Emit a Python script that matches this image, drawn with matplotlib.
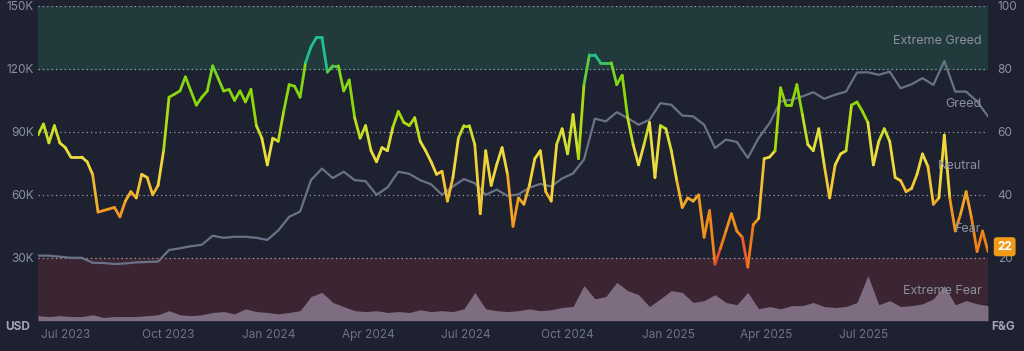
import numpy as np
import matplotlib.pyplot as plt
import matplotlib.dates as mdates
from matplotlib.collections import LineCollection
from matplotlib.colors import LinearSegmentedColormap
import pandas as pd

plt.rcParams['font.family'] = ['Inter', 'DejaVu Sans']

# Fear & Greed index, one reading every 5 days from 2023-06-28
fg_values = [
    59, 62.5, 56.5, 62, 56.5, 55, 52, 52, 52, 50.5, 46.5, 34.5, 35, 35.5, 36, 33, 38, 41, 39, 46.5,
    45.5, 40, 43, 54, 71, 72, 73, 77.5, 73, 68.5, 71, 73, 81, 77, 73, 73.5, 70, 73, 69.5, 73.5,
    62, 58, 49.5, 58,
    57, 66.5, 75, 74.5, 71, 82, 87, 90, 90, 79, 81, 81, 73, 76.5, 64.5, 58, 62, 54, 50.5, 55,
    54, 61.5, 66.5, 63, 62, 64.5, 57, 54, 50.5, 46.5, 47.5, 38, 45.5, 58, 62, 62, 56, 34, 54, 43,
    49.5, 55, 46.5,
    30, 39, 37, 43, 51.5, 54, 41, 38, 56, 61, 53, 65.5, 51.5, 75, 84.5, 84.5, 82, 82, 82, 75,
    78, 64.5, 56, 49.5, 56, 63, 45.5, 62, 61, 54, 44.5, 36, 39, 38, 40, 26.5, 35, 18, 23, 28.5,
    34, 28.5, 26.5,
    17, 30.5, 32.5, 51.5, 52, 54, 74, 68.5, 68.5, 75, 65.5, 56, 54, 61, 49.5, 39, 49.5, 53, 54, 68.5,
    69.5, 66.5, 63, 49.5, 57, 61, 57, 45.5, 44.5, 41, 42, 46.5, 53, 49, 37, 39, 59, 39, 28.5, 34,
    41, 32.5, 22, 28.5, 22,
]

# BTC price (thousand USD) and daily volume (billion USD), every 10 days from 2023-06-28
btc_usd_k = [
    31.0, 31.0, 30.5, 30.0, 30.0, 27.6, 27.5, 27.0, 27.3, 27.8, 28.0, 28.2, 33.7, 34.5, 35.5, 36.2,
    40.5, 39.5, 40.0, 40.0, 39.5, 38.5,
    43.0, 49.5, 52.0, 67.0, 72.5, 68.0, 71.0, 67.0, 66.5, 60.0, 63.5, 71.0, 70.0, 67.0, 65.0, 60.0,
    64.0, 67.5, 65.5, 60.0, 62.5, 59.5,
    60.2, 63.4, 65.2, 64.0, 67.8, 70.2, 76.8, 96.3, 95.0, 99.4, 96.6, 93.4, 95.8, 103.7, 102.9, 97.8,
    97.4, 93.4, 82.3, 86.3, 85.2,
    77.6, 87.1, 94.2, 104.5, 105.3, 106.9, 108.9, 105.8, 107.7, 109.2, 118.3, 118.4, 117.2, 118.7,
    110.8, 112.7, 115.6, 112.4, 123.8, 109.2, 109.2, 104.5, 97.4,
]
volume_b = [
    11, 9, 11, 9, 9, 13, 7, 9, 9, 9,
    11, 13, 22, 13, 11, 13, 18, 20, 15, 26,
    20, 18, 15, 18, 22, 53, 62, 40, 31, 22,
    20, 22, 18, 20, 18, 24, 20, 22, 20, 26,
    62, 26, 22, 20, 22, 26, 22, 24, 29, 31,
    77, 48, 53, 84, 66, 57, 31, 48, 66, 62,
    40, 44, 57, 40, 35, 62, 26, 31, 26, 33,
    33, 40, 31, 29, 31, 40, 99, 35, 44, 31,
    33, 37, 48, 77, 35, 44, 37, 33,
]

zone_labels = ['Extreme Greed', 'Greed', 'Neutral', 'Fear', 'Extreme Fear']
zone_label_y = [89, 69, 49, 29, 9.5]
usd_ticks_k = [30, 60, 90, 120, 150]
fg_ticks = [20, 40, 60, 80, 100]
month_ticks = ['2023-07-01', '2023-10-01', '2024-01-01', '2024-04-01', '2024-07-01',
               '2024-10-01', '2025-01-01', '2025-04-01', '2025-07-01']
month_labels = ['Jul 2023', 'Oct 2023', 'Jan 2024', 'Apr 2024', 'Jul 2024',
                'Oct 2024', 'Jan 2025', 'Apr 2025', 'Jul 2025']

BG = '#1e2130'
TXT = '#8b909e'
USD_PER_FG = 1.5          # 150K on the left axis lines up with 100 on the right
VOL_TOP = 690             # volume (B) that would reach the top of the chart

fg_dates = pd.date_range('2023-06-28', periods=len(fg_values), freq='5D')
btc_dates = pd.date_range('2023-06-28', periods=len(btc_usd_k), freq='10D')

fig = plt.figure(figsize=(10.24, 3.51), dpi=100, facecolor=BG)
ax = fig.add_axes([38 / 1024, 30.3 / 351, 950 / 1024, 314.7 / 351])
ax.set_facecolor(BG)

x0, x1 = mdates.date2num(fg_dates[0]), mdates.date2num(fg_dates[-1])
ax.set_xlim(x0, x1)
ax.set_ylim(0, 100)

# zone bands
ax.axhspan(80, 100, color='#213a3c', zorder=0)
ax.axhspan(0, 20, color='#3b2533', zorder=0)
for v in [0] + fg_ticks:
    ax.axhline(v, color='#c8ccd6', lw=0.9, ls=(0, (1, 2.5)), alpha=0.75, zorder=1)

# volume
vol_scaled = np.array(volume_b) / VOL_TOP * 100
ax.fill_between(btc_dates, 0, vol_scaled, color='#86758a', alpha=0.9, lw=0, zorder=2)

# BTC price
ax.plot(btc_dates, np.array(btc_usd_k) / USD_PER_FG, color='#6b7187', lw=1.6, zorder=3)

# Fear & Greed line coloured by value
cmap = LinearSegmentedColormap.from_list('fg', [
    (0.0, '#ea3943'), (0.19, '#ea3943'), (0.24, '#ef7f12'), (0.36, '#f29c22'),
    (0.46, '#f3d33a'), (0.56, '#e8e040'), (0.66, '#93d900'), (0.78, '#7fd61a'),
    (0.84, '#20c08a'), (1.0, '#16c784')])
xs = mdates.date2num(fg_dates)
ys = np.array(fg_values)
pts = np.column_stack([xs, ys]).reshape(-1, 1, 2)
segs = np.concatenate([pts[:-1], pts[1:]], axis=1)
lc = LineCollection(segs, colors=cmap((ys[:-1] + ys[1:]) / 200), linewidths=2.0,
                    capstyle='round', joinstyle='round', zorder=4)
ax.add_collection(lc)

# zone labels
for lab, yv in zip(zone_labels, zone_label_y):
    ax.text(0.993, yv, lab, transform=ax.get_yaxis_transform(), ha='right', va='center',
            fontsize=9, color=TXT, zorder=5)

# axes and ticks
for s in ax.spines.values():
    s.set_visible(False)
ax.yaxis.tick_right()
ax.set_yticks(fg_ticks)
ax.set_yticklabels([str(v) for v in fg_ticks])
ax.tick_params(axis='y', length=0, pad=7, labelsize=8.5, labelcolor=TXT)

usd = ax.secondary_yaxis('left', functions=(lambda v: v * USD_PER_FG, lambda u: u / USD_PER_FG))
usd.set_yticks(usd_ticks_k)
usd.set_yticklabels([f'{v}K' for v in usd_ticks_k])
usd.tick_params(length=0, pad=3, labelsize=8.5, labelcolor=TXT)
for s in usd.spines.values():
    s.set_visible(False)

ax.set_xticks([mdates.date2num(pd.Timestamp(d)) for d in month_ticks])
ax.set_xticklabels(month_labels, ha='left')
ax.tick_params(axis='x', length=0, pad=6, labelsize=8.5, labelcolor='#6f7483')

fig.text(18 / 1024, 1 - 327 / 351, 'USD', ha='center', va='center', fontsize=8.5,
         fontweight='bold', color='#a3a7b3')
fig.text(1003 / 1024, 1 - 327 / 351, 'F&G', ha='center', va='center', fontsize=8.5,
         fontweight='bold', color='#a3a7b3')

# current value badge
ax.annotate(str(int(fg_values[-1])), xy=(1.0, fg_values[-1] + 1.5), xycoords=('axes fraction', 'data'),
            xytext=(12, 0), textcoords='offset points', ha='center', va='center',
            fontsize=8.5, fontweight='bold', color='white', zorder=6,
            bbox=dict(boxstyle='round,pad=0.3,rounding_size=0.25', fc='#f09a1a', ec='none'),
            annotation_clip=False)

fig.savefig('out.png', dpi=100, facecolor=BG)
